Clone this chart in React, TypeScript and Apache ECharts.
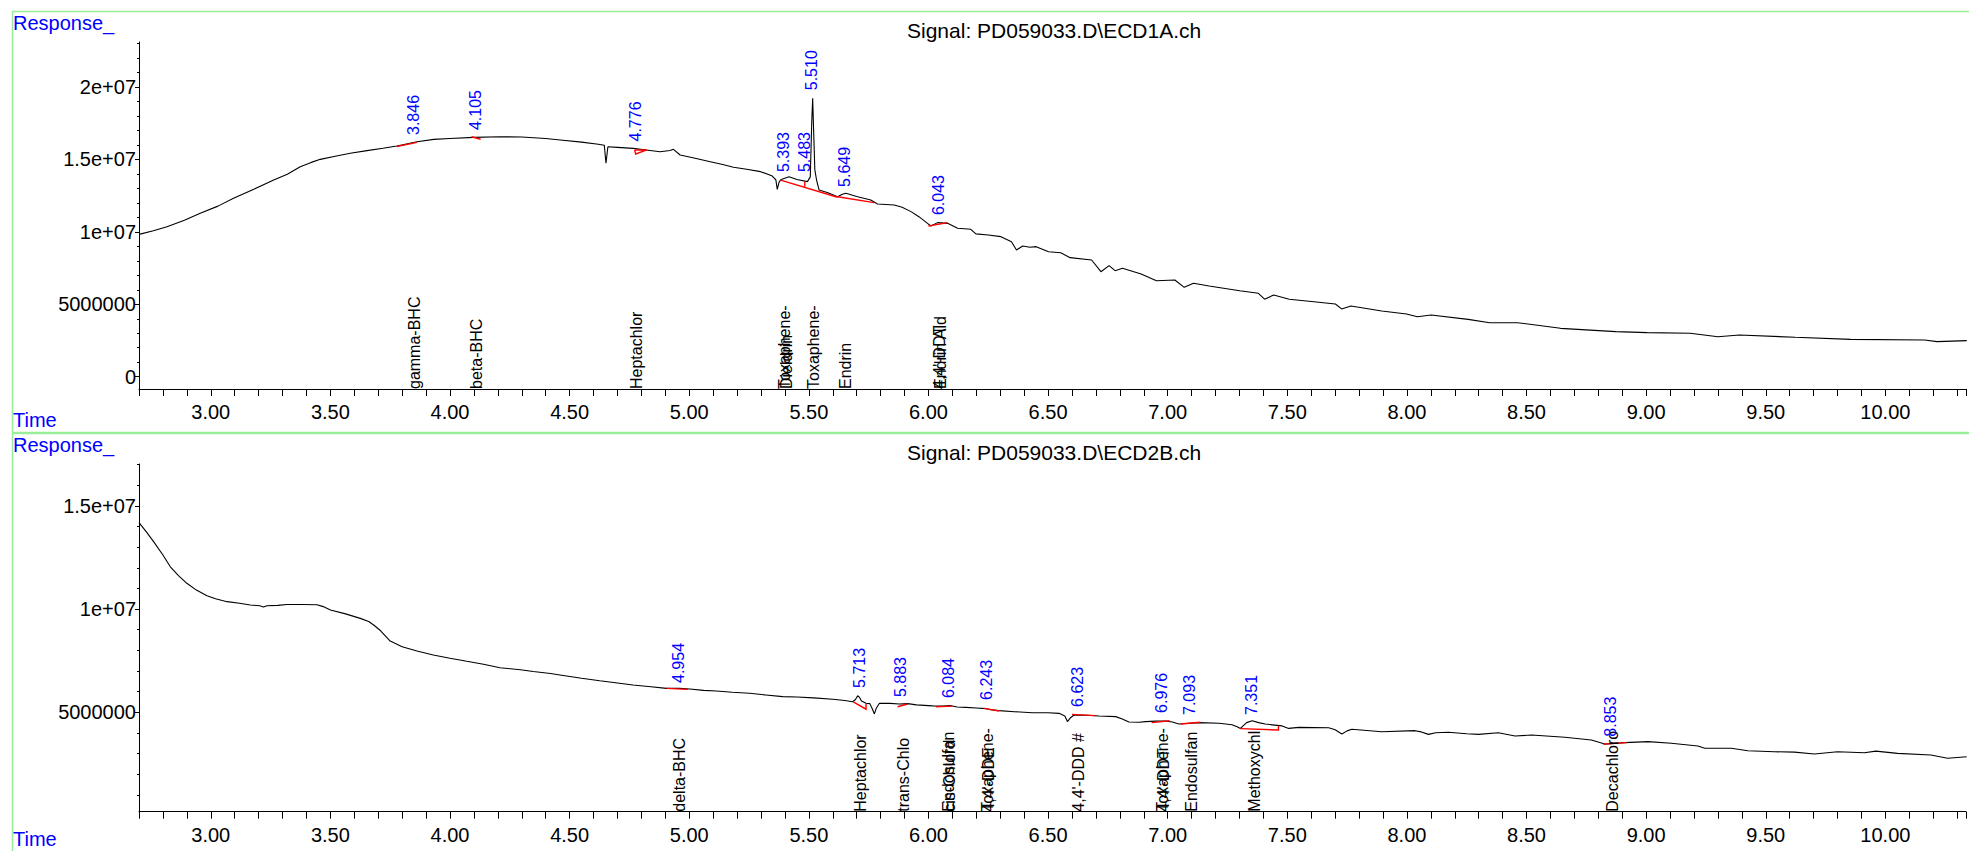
import React, { useEffect, useRef } from 'react';
import * as echarts from 'echarts';

const FONT = '"Liberation Sans", Arial, Helvetica, sans-serif';

// ---------- Signal 1 : ECD1A (response in units of 1e6) ----------
const topTime = [
  2.70, 2.76, 2.817, 2.89, 2.956, 3.03, 3.095, 3.18, 3.263, 3.32, 3.374, 3.42, 3.458, 3.52, 3.583, 3.653,
  3.72, 3.778, 3.862, 3.932, 4.00, 4.099, 4.211, 4.30, 4.40, 4.461, 4.55, 4.62, 4.645, 4.652, 4.660, 4.70,
  4.766, 4.82, 4.878, 4.92, 4.934, 4.962, 5.02, 5.088, 5.14, 5.185, 5.24, 5.298, 5.345, 5.362, 5.368, 5.376,
  5.385, 5.417, 5.45, 5.494, 5.506, 5.512, 5.516, 5.520, 5.525, 5.532, 5.543, 5.58, 5.62, 5.64, 5.655, 5.70,
  5.759, 5.787, 5.857, 5.89, 5.927, 5.96, 5.996, 6.010, 6.038, 6.080, 6.122, 6.177, 6.198, 6.25, 6.303, 6.347,
  6.368, 6.394, 6.424, 6.45, 6.502, 6.553, 6.592, 6.682, 6.721, 6.755, 6.78, 6.811, 6.889, 6.953, 7.03, 7.069,
  7.108, 7.173, 7.301, 7.379, 7.405, 7.443, 7.508, 7.611, 7.701, 7.727, 7.766, 7.895, 7.998, 8.044, 8.101, 8.256,
  8.346, 8.462, 8.642, 8.874, 9.004, 9.184, 9.30, 9.39, 9.623, 9.855, 10.164, 10.216, 10.34,
];
const topResp = [
  9.83, 10.08, 10.36, 10.80, 11.28, 11.78, 12.32, 12.95, 13.58, 13.98, 14.50, 14.80, 15.01, 15.22, 15.43, 15.61,
  15.78, 15.93, 16.23, 16.39, 16.45, 16.53, 16.57, 16.55, 16.45, 16.35, 16.20, 16.05, 15.98, 14.74, 15.88, 15.84,
  15.77, 15.66, 15.54, 15.62, 15.70, 15.31, 15.10, 14.85, 14.65, 14.46, 14.33, 14.16, 13.88, 13.60, 12.94, 13.45,
  13.62, 13.81, 13.62, 13.47, 13.80, 17.50, 19.22, 17.00, 14.30, 13.60, 12.89, 12.70, 12.43, 12.60, 12.67, 12.45,
  12.20, 11.93, 11.86, 11.70, 11.40, 11.05, 10.59, 10.41, 10.64, 10.59, 10.25, 10.18, 9.86, 9.78, 9.67, 9.32,
  8.75, 9.03, 8.94, 8.98, 8.63, 8.56, 8.22, 8.06, 7.25, 7.67, 7.32, 7.49, 7.09, 6.63, 6.68, 6.17,
  6.45, 6.26, 5.94, 5.76, 5.35, 5.64, 5.35, 5.18, 5.02, 4.68, 4.88, 4.54, 4.33, 4.14, 4.26, 3.96,
  3.73, 3.73, 3.34, 3.11, 3.04, 3.00, 2.76, 2.88, 2.72, 2.58, 2.53, 2.42, 2.49,
];
const topPeakRT = [3.846, 4.105, 4.776, 5.393, 5.483, 5.510, 5.649, 6.043];
const topPeakApex = [16.21, 16.55, 15.76, 13.65, 13.65, 19.30, 12.62, 10.68];
const topPeakLabels = ['3.846', '4.105', '4.776', '5.393', '5.483', '5.510', '5.649', '6.043'];
const topNameRT = [3.846, 4.105, 4.776, 5.393, 5.404, 5.514, 5.651, 6.040, 6.046];
const topNames = ['gamma-BHC', 'beta-BHC', 'Heptachlor', 'Toxaphene-', 'Dieldrin', 'Toxaphene-', 'Endrin', "4,4'-DDT", 'Endrin Ald'];
const topBaselines = [
  [[3.778, 15.90], [3.862, 16.18]],
  [[4.09, 16.57], [4.128, 16.40]],
  [[4.772, 15.66], [4.776, 15.38], [4.823, 15.66], [4.772, 15.66]],
  [[5.382, 13.58], [5.62, 12.39]],
  [[5.483, 13.47], [5.483, 13.12]],
  [[5.62, 12.43], [5.773, 12.02]],
  [[6.00, 10.41], [6.08, 10.64]],
];
const topYMin = -0.85;
const topYMax = 23.114;
const topYTicks = [0, 5, 10, 15, 20];
const topYTickLabels = ['0', '5000000', '1e+07', '1.5e+07', '2e+07'];
const topYMinor = [0, 1, 2, 3, 4, 5, 6, 7, 8, 9, 10, 11, 12, 13, 14, 15, 16, 17, 18, 19, 20, 21, 22, 23];

// ---------- Signal 2 : ECD2B (response in units of 1e6) ----------
const botTime = [
  2.70, 2.73, 2.761, 2.80, 2.831, 2.865, 2.90, 2.94, 2.984, 3.02, 3.068, 3.12, 3.165, 3.205, 3.22, 3.235,
  3.28, 3.319, 3.38, 3.444, 3.47, 3.50, 3.56, 3.625, 3.66, 3.681, 3.71, 3.75, 3.80, 3.862, 3.93, 4.00,
  4.07, 4.14, 4.209, 4.294, 4.348, 4.42, 4.487, 4.55, 4.626, 4.70, 4.765, 4.84, 4.905, 4.96, 5.002, 5.06,
  5.113, 5.18, 5.252, 5.32, 5.391, 5.45, 5.52, 5.60, 5.65, 5.683, 5.695, 5.704, 5.712, 5.72, 5.739, 5.755,
  5.766, 5.774, 5.782, 5.795, 5.84, 5.878, 5.913, 5.95, 6.017, 6.06, 6.09, 6.12, 6.157, 6.20, 6.24, 6.26,
  6.295, 6.36, 6.434, 6.50, 6.546, 6.57, 6.581, 6.595, 6.609, 6.66, 6.713, 6.783, 6.81, 6.838, 6.88, 6.908,
  6.95, 6.991, 7.02, 7.047, 7.09, 7.13, 7.214, 7.269, 7.29, 7.304, 7.33, 7.353, 7.38, 7.408, 7.478, 7.506,
  7.548, 7.673, 7.70, 7.728, 7.75, 7.77, 7.895, 8.034, 8.06, 8.09, 8.12, 8.173, 8.25, 8.299, 8.382, 8.452,
  8.521, 8.66, 8.771, 8.827, 8.91, 9.008, 9.105, 9.216, 9.245, 9.356, 9.425, 9.536, 9.62, 9.703, 9.80, 9.912,
  9.96, 10.051, 10.19, 10.26, 10.34,
];
const botResp = [
  14.19, 13.75, 13.27, 12.62, 12.05, 11.62, 11.25, 10.92, 10.65, 10.50, 10.36, 10.28, 10.20, 10.16, 10.10, 10.16,
  10.18, 10.22, 10.22, 10.21, 10.12, 9.96, 9.78, 9.55, 9.40, 9.23, 8.95, 8.45, 8.18, 7.97, 7.78, 7.62,
  7.47, 7.33, 7.16, 7.06, 6.98, 6.88, 6.76, 6.65, 6.53, 6.42, 6.32, 6.24, 6.16, 6.16, 6.13, 6.06,
  6.03, 5.97, 5.92, 5.84, 5.76, 5.74, 5.70, 5.63, 5.57, 5.51, 5.62, 5.80, 5.72, 5.55, 5.44, 5.42,
  5.15, 4.92, 5.20, 5.44, 5.43, 5.40, 5.42, 5.36, 5.31, 5.30, 5.33, 5.26, 5.24, 5.21, 5.18, 5.12,
  5.08, 5.03, 4.98, 4.98, 4.95, 4.82, 4.55, 4.75, 4.87, 4.86, 4.82, 4.79, 4.68, 4.53, 4.52, 4.55,
  4.57, 4.58, 4.53, 4.43, 4.47, 4.50, 4.47, 4.40, 4.30, 4.22, 4.50, 4.59, 4.50, 4.43, 4.34, 4.22,
  4.27, 4.25, 4.15, 3.95, 4.10, 4.18, 4.06, 4.11, 4.05, 3.93, 4.01, 4.03, 3.96, 3.93, 4.01, 3.85,
  3.90, 3.79, 3.66, 3.46, 3.53, 3.58, 3.50, 3.37, 3.26, 3.26, 3.14, 3.09, 3.07, 2.98, 3.09, 3.04,
  3.12, 3.01, 2.93, 2.77, 2.85,
];
const botPeakRT = [4.954, 5.713, 5.883, 6.084, 6.243, 6.623, 6.976, 7.093, 7.351, 8.853];
const botPeakApex = [6.08, 5.84, 5.40, 5.35, 5.26, 4.92, 4.63, 4.53, 4.53, 3.48];
const botPeakLabels = ['4.954', '5.713', '5.883', '6.084', '6.243', '6.623', '6.976', '7.093', '7.351', '8.853'];
const botNameRT = [4.954, 5.713, 5.890, 6.080, 6.085, 6.243, 6.248, 6.625, 6.975, 6.978, 7.095, 7.358, 8.855];
const botNames = ['delta-BHC', 'Heptachlor', 'trans-Chlo', 'Endosulfan', 'cis-Chlord', 'Toxaphene-', "4,4'-DDE", "4,4'-DDD #", 'Toxaphene-', "4,4'-DDT", 'Endosulfan', 'Methoxychl', 'Decachloro'];
const botBaselines = [
  [[4.905, 6.16], [4.995, 6.11]],
  [[5.686, 5.51], [5.739, 5.15], [5.739, 5.40]],
  [[5.871, 5.27], [5.913, 5.40]],
  [[6.031, 5.27], [6.10, 5.30]],
  [[6.233, 5.19], [6.295, 5.06]],
  [[6.60, 4.90], [6.70, 4.84]],
  [[6.933, 4.50], [7.008, 4.59]],
  [[7.054, 4.43], [7.137, 4.52]],
  [[7.304, 4.21], [7.463, 4.14], [7.463, 4.34]],
  [[8.82, 3.46], [8.918, 3.53]],
];
const botYMin = 0.184;
const botYMax = 17.03;
const botYTicks = [5, 10, 15];
const botYTickLabels = ['5000000', '1e+07', '1.5e+07'];
const botYMinor = [1, 2, 3, 4, 5, 6, 7, 8, 9, 10, 11, 12, 13, 14, 15, 16, 17];

// ---------- shared time axis ----------
const xMin = 2.7;
const xMax = 10.337;
const xTickLabels = ['3.00', '3.50', '4.00', '4.50', '5.00', '5.50', '6.00', '6.50', '7.00', '7.50', '8.00', '8.50', '9.00', '9.50', '10.00'];

const panelTexts = [
  { y: 11, signal: 'Signal: PD059033.D\\ECD1A.ch', timeY: 420 },
  { y: 433, signal: 'Signal: PD059033.D\\ECD2B.ch', timeY: 839 },
];

function xAxisFor(gridIndex: number) {
  return {
    type: 'value',
    gridIndex,
    min: xMin,
    max: xMax,
    interval: 0.1,
    axisLine: { show: true, onZero: false, lineStyle: { color: '#000', width: 1 } },
    axisTick: { show: true, length: 7, lineStyle: { color: '#000', width: 1 } },
    axisLabel: {
      show: true,
      margin: 13,
      color: '#000',
      fontSize: 20,
      fontFamily: FONT,
      formatter: (v: number) => {
        const s = v.toFixed(2);
        return xTickLabels.includes(s) ? s : '';
      },
    },
    splitLine: { show: false },
  };
}

function yAxesFor(gridIndex: number, min: number, max: number, ticks: number[], labels: string[], minor: number[]) {
  return [
    {
      type: 'value',
      gridIndex,
      position: 'left',
      min,
      max,
      axisLine: { show: true, onZero: false, lineStyle: { color: '#000', width: 1 } },
      axisTick: { show: true, length: 4, customValues: ticks, lineStyle: { color: '#000' } },
      axisLabel: {
        show: true,
        customValues: ticks,
        margin: 3,
        color: '#000',
        fontSize: 20,
        fontFamily: FONT,
        formatter: (v: number) => {
          const i = ticks.findIndex((t) => Math.abs(t - v) < 1e-6);
          return i >= 0 ? labels[i] : '';
        },
      },
      splitLine: { show: false },
    },
    {
      type: 'value',
      gridIndex,
      position: 'left',
      offset: 0,
      min,
      max,
      axisLine: { show: false, onZero: false },
      axisTick: { show: true, length: 2, customValues: minor, lineStyle: { color: '#000' } },
      axisLabel: { show: false },
      splitLine: { show: false },
    },
  ];
}

function peakLabelSeries(axisIdx: number, yIdx: number, rts: number[], apex: number[], labels: string[]) {
  return {
    type: 'custom',
    xAxisIndex: axisIdx,
    yAxisIndex: yIdx,
    silent: true,
    z: 6,
    data: rts.map((t, i) => [t, apex[i]]),
    renderItem: (params: any, api: any) => {
      const p = api.coord([api.value(0), api.value(1)]);
      return {
        type: 'text',
        x: p[0],
        y: p[1] - 7,
        rotation: Math.PI / 2,
        style: {
          text: labels[params.dataIndex],
          fill: '#0000ff',
          fontSize: 16,
          fontFamily: FONT,
          align: 'left',
          verticalAlign: 'middle',
          textAlign: 'left',
          textVerticalAlign: 'middle',
        },
      };
    },
  };
}

function nameSeries(axisIdx: number, yIdx: number, rts: number[], names: string[], yBase: number) {
  return {
    type: 'custom',
    xAxisIndex: axisIdx,
    yAxisIndex: yIdx,
    silent: true,
    z: 5,
    data: rts.map((t) => [t, yBase]),
    renderItem: (params: any, api: any) => {
      const p = api.coord([api.value(0), api.value(1)]);
      return {
        type: 'text',
        x: p[0] + 1,
        y: p[1],
        rotation: Math.PI / 2,
        style: {
          text: names[params.dataIndex],
          fill: '#000',
          fontSize: 16,
          fontFamily: FONT,
          align: 'left',
          verticalAlign: 'middle',
          textAlign: 'left',
          textVerticalAlign: 'middle',
        },
      };
    },
  };
}

function baselineSeries(axisIdx: number, yIdx: number, segs: number[][][]) {
  return {
    type: 'custom',
    xAxisIndex: axisIdx,
    yAxisIndex: yIdx,
    silent: true,
    z: 4,
    data: segs.map((s) => [s[0][0], s[0][1]]),
    renderItem: (params: any, api: any) => {
      const pts = segs[params.dataIndex].map((pt) => api.coord(pt));
      return {
        type: 'polyline',
        shape: { points: pts },
        style: { stroke: '#ff0000', lineWidth: 1.4, fill: null },
      };
    },
  };
}

export default function App() {
  const ref = useRef<HTMLDivElement>(null);

  useEffect(() => {
    if (!ref.current) return;
    const chart = echarts.init(ref.current, undefined, { renderer: 'svg' });

    const graphics: any[] = [];
    panelTexts.forEach((pt) => {
      graphics.push({
        type: 'rect',
        silent: true,
        shape: { x: 12.5, y: pt.y + 0.5, width: 2000, height: 421 },
        style: { fill: 'none', stroke: '#98ee98', lineWidth: 1.5 },
      });
      graphics.push({
        type: 'text',
        silent: true,
        x: 13,
        y: pt.y + 12,
        style: { text: 'Response_', fill: '#0000ff', fontSize: 20, fontFamily: FONT, align: 'left', verticalAlign: 'middle', textAlign: 'left', textVerticalAlign: 'middle' },
      });
      graphics.push({
        type: 'text',
        silent: true,
        x: 907,
        y: pt.y + 19,
        style: { text: pt.signal, fill: '#000', fontSize: 21, fontFamily: FONT, align: 'left', verticalAlign: 'middle', textAlign: 'left', textVerticalAlign: 'middle' },
      });
      graphics.push({
        type: 'text',
        silent: true,
        x: 13,
        y: pt.timeY,
        style: { text: 'Time', fill: '#0000ff', fontSize: 20, fontFamily: FONT, align: 'left', verticalAlign: 'middle', textAlign: 'left', textVerticalAlign: 'middle' },
      });
    });

    const option: any = {
      animation: false,
      backgroundColor: '#ffffff',
      grid: [
        { left: 139, top: 42, width: 1830, height: 347, containLabel: false },
        { left: 139, top: 464, width: 1830, height: 347.7, containLabel: false },
      ],
      xAxis: [xAxisFor(0), xAxisFor(1)],
      yAxis: [
        ...yAxesFor(0, topYMin, topYMax, topYTicks, topYTickLabels, topYMinor),
        ...yAxesFor(1, botYMin, botYMax, botYTicks, botYTickLabels, botYMinor),
      ],
      series: [
        {
          type: 'line',
          xAxisIndex: 0,
          yAxisIndex: 0,
          showSymbol: false,
          silent: true,
          lineStyle: { color: '#000', width: 1.1 },
          data: topTime.map((t, i) => [t, topResp[i]]),
        },
        {
          type: 'line',
          xAxisIndex: 1,
          yAxisIndex: 2,
          showSymbol: false,
          silent: true,
          lineStyle: { color: '#000', width: 1.1 },
          data: botTime.map((t, i) => [t, botResp[i]]),
        },
        baselineSeries(0, 0, topBaselines),
        baselineSeries(1, 2, botBaselines),
        nameSeries(0, 0, topNameRT, topNames, topYMin),
        nameSeries(1, 2, botNameRT, botNames, botYMin),
        peakLabelSeries(0, 0, topPeakRT, topPeakApex, topPeakLabels),
        peakLabelSeries(1, 2, botPeakRT, botPeakApex, botPeakLabels),
      ],
      graphic: graphics,
    };

    chart.setOption(option);
    return () => {
      chart.dispose();
    };
  }, []);

  return (
    <div
      ref={ref}
      style={{ position: 'absolute', left: 0, top: 0, width: 1969, height: 851, background: '#fff' }}
    />
  );
}
